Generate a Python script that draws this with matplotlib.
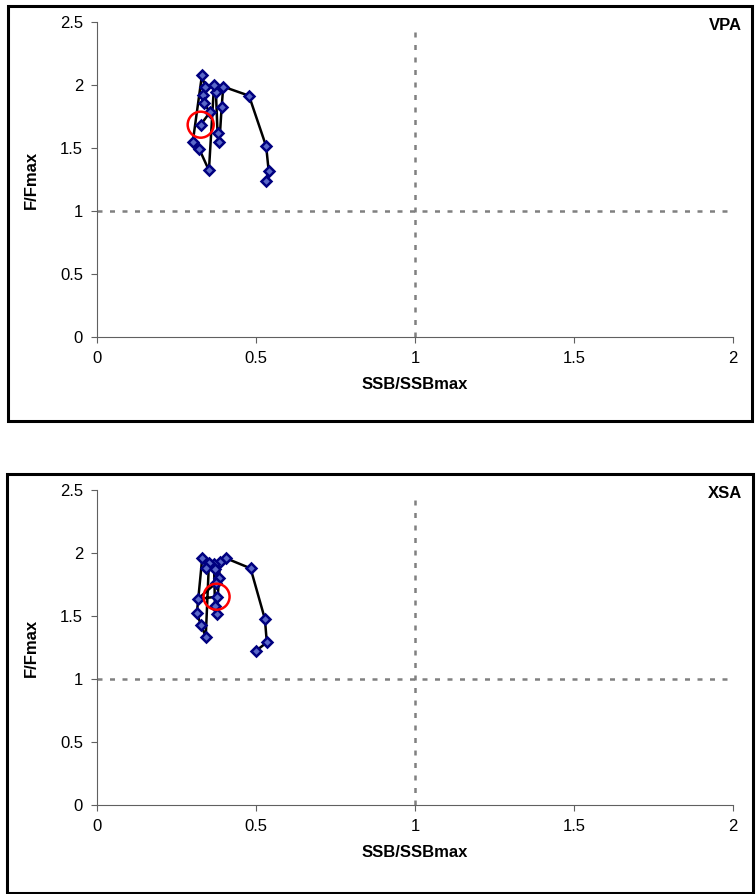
import matplotlib.pyplot as plt
from matplotlib.patches import Rectangle, Ellipse

plt.rcParams['font.family'] = ['Liberation Sans', 'DejaVu Sans']

# VPA trajectory (SSB/SSBmax, F/Fmax)
vpa_ssb = [0.531, 0.540, 0.532, 0.478, 0.397, 0.392, 0.385, 0.379, 0.374, 0.368,
           0.352, 0.322, 0.301, 0.330, 0.340, 0.334, 0.336, 0.355, 0.326]
vpa_f = [1.236, 1.315, 1.513, 1.915, 1.987, 1.825, 1.548, 1.622, 1.942, 1.998,
         1.323, 1.489, 1.545, 2.077, 1.987, 1.923, 1.860, 1.783, 1.685]

# XSA trajectory
xsa_ssb = [0.501, 0.534, 0.528, 0.483, 0.406, 0.387, 0.376, 0.371, 0.368, 0.352,
           0.342, 0.327, 0.314, 0.331, 0.343, 0.371, 0.385, 0.373, 0.317, 0.376]
xsa_f = [1.225, 1.291, 1.476, 1.878, 1.958, 1.926, 1.516, 1.579, 1.910, 1.923,
         1.336, 1.429, 1.521, 1.963, 1.883, 1.871, 1.799, 1.759, 1.635, 1.653]

panels = [("VPA", vpa_ssb, vpa_f), ("XSA", xsa_ssb, xsa_f)]

fig = plt.figure(figsize=(7.56, 8.94), dpi=100)
W, H = 756, 894

def fx(px):
    return px / W

def fy(py):
    return 1 - py / H

# outer frames round each panel
for x0, y0, x1, y1 in [(8, 6, 752, 421), (7, 474, 753, 893)]:
    fig.patches.append(Rectangle((fx(x0), fy(y1)), fx(x1) - fx(x0), fy(y0) - fy(y1),
                                 transform=fig.transFigure, fill=False,
                                 lw=2.2, ec='black'))

axes_top = [22, 490]
for (name, ssb, f), top in zip(panels, axes_top):
    bottom = top + 315
    ax = fig.add_axes([fx(97), fy(bottom), fx(733) - fx(97), fy(top) - fy(bottom)])
    ax.set_xlim(0, 2)
    ax.set_ylim(0, 2.5)
    ax.axvline(1, color='#808080', ls=(0, (2, 3)), lw=1.8, ymax=0.98)
    ax.axhline(1, color='#808080', ls=(0, (2, 3)), lw=1.8)
    ax.plot(ssb, f, color='black', lw=1.8, marker='D', ms=5.5,
            mfc='#5a68c8', mec='#000080', mew=1.8)
    ax.add_patch(Ellipse((ssb[-1], f[-1]), 26 / 318, 26 / 126, fill=False,
                         ec='red', lw=1.8, zorder=5))
    ax.set_xticks([0, 0.5, 1, 1.5, 2])
    ax.set_xticklabels(['0', '0.5', '1', '1.5', '2'])
    ax.set_yticks([0, 0.5, 1, 1.5, 2, 2.5])
    ax.set_yticklabels(['0', '0.5', '1', '1.5', '2', '2.5'])
    ax.tick_params(labelsize=12, length=4, color='#606060', pad=6)
    for s in ['top', 'right']:
        ax.spines[s].set_visible(False)
    for s in ['left', 'bottom']:
        ax.spines[s].set_color('#606060')
    ax.set_xlabel('SSB/SSBmax', fontsize=12, fontweight='bold', labelpad=8)
    ax.set_ylabel('F/Fmax', fontsize=12, fontweight='bold', labelpad=15)
    fig.text(fx(742), fy(top + 3), name, ha='right', va='center',
             fontsize=12, fontweight='bold')

fig.savefig('out.png', dpi=100)
